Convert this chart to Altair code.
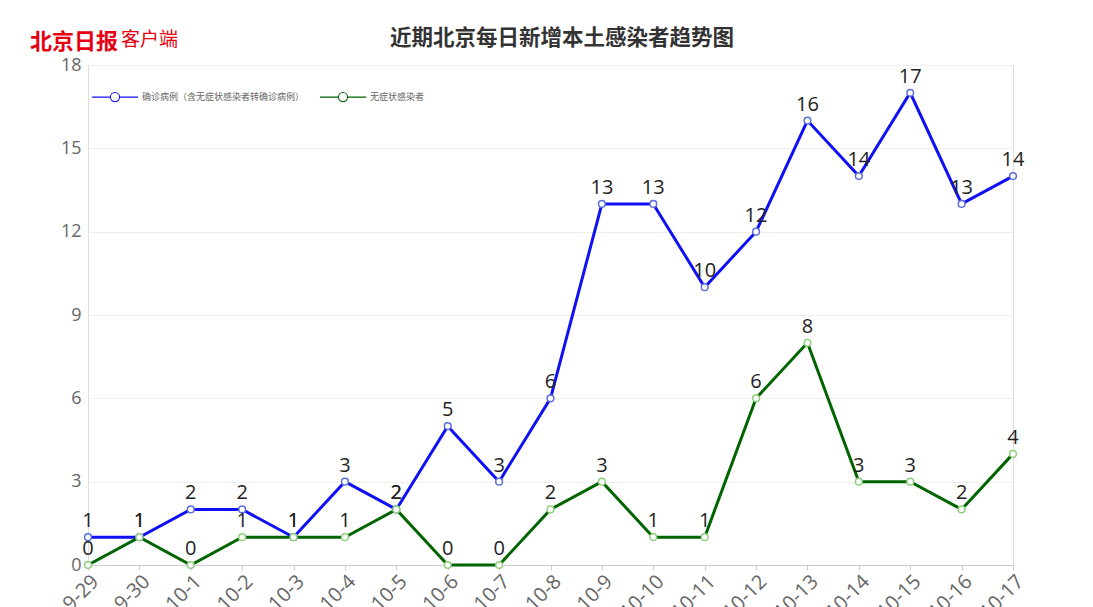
import altair as alt
import pandas as pd

dates = ["9-29", "9-30", "10-1", "10-2", "10-3", "10-4", "10-5", "10-6", "10-7", "10-8",
         "10-9", "10-10", "10-11", "10-12", "10-13", "10-14", "10-15", "10-16", "10-17"]
confirmed = [1, 1, 2, 2, 1, 3, 2, 5, 3, 6, 13, 13, 10, 12, 16, 14, 17, 13, 14]
asymptomatic = [0, 1, 0, 1, 1, 1, 2, 0, 0, 2, 3, 1, 1, 6, 8, 3, 3, 2, 4]

s1 = "确诊病例（含无症状感染者转确诊病例）"
s2 = "无症状感染者"
series = [s1, s2]
line_colors = ["#1010f5", "#006400"]
marker_colors = ["#5b6fd8", "#8fcf7f"]

rows = []
for d, a, b in zip(dates, confirmed, asymptomatic):
    rows.append({"date": d, "series": s1, "value": a})
    rows.append({"date": d, "series": s2, "value": b})
df = pd.DataFrame(rows)

x = alt.X("date:N", sort=dates, title=None,
          scale=alt.Scale(type="point", padding=0),
          axis=alt.Axis(labelAngle=315, labelFontSize=20, labelColor="#666666",
                        labelFont="Open Sans", domainColor="#cccccc", tickColor="#cccccc",
                        tickSize=5, labelPadding=1, grid=False))
y = alt.Y("value:Q", title=None,
          scale=alt.Scale(domain=[0, 18], nice=False),
          axis=alt.Axis(values=[0, 3, 6, 9, 12, 15, 18], labelFontSize=18, labelColor="#666666",
                        labelFont="Open Sans", domain=False, ticks=False, labelPadding=7,
                        gridColor="#eeeeee"))

legend_path = ("M-1,0L-0.2,0M0.2,0L1,0M-0.2,0A0.2,0.2,0,1,1,0.2,0"
               "A0.2,0.2,0,1,1,-0.2,0Z")

base = alt.Chart(df)

lines = base.mark_line(strokeWidth=3).encode(
    x=x, y=y,
    color=alt.Color("series:N", sort=series,
                    scale=alt.Scale(domain=series, range=line_colors),
                    legend=alt.Legend(title=None, orient="none", legendX=3, legendY=8,
                                      direction="horizontal", symbolType=legend_path,
                                      symbolSize=2116, symbolStrokeWidth=1.1,
                                      symbolFillColor="white", labelFontSize=9,
                                      labelColor="#666666", labelFont="Noto Sans CJK SC",
                                      labelLimit=1000, columnPadding=12, labelOffset=3)),
)

points = base.mark_point(filled=True, fill="white", size=45, strokeWidth=1.5, opacity=1).encode(
    x=x, y=y,
    stroke=alt.Stroke("series:N", scale=alt.Scale(domain=series, range=marker_colors), legend=None),
)

labels = base.mark_text(dy=-16, fontSize=20, font="Open Sans", color="#222222").encode(
    x=x, y=y, text="value:Q",
)

logo_df = pd.DataFrame({"t": ["北京日报"], "u": ["客户端"], "title": ["近期北京每日新增本土感染者趋势图"]})
logo1 = alt.Chart(logo_df).mark_text(
    fontSize=22, font="Noto Sans CJK SC", fontWeight="bold",
    color="#e60012", align="left", baseline="alphabetic"
).encode(x=alt.value(-58), y=alt.value(-16), text="t:N")
logo2 = alt.Chart(logo_df).mark_text(
    fontSize=19, font="Noto Sans CJK SC", color="#e60012", align="left",
    baseline="alphabetic"
).encode(x=alt.value(33), y=alt.value(-19), text="u:N")
title = alt.Chart(logo_df).mark_text(
    fontSize=21.5, font="Noto Sans CJK SC", fontWeight="bold", color="#333333",
    align="center", baseline="alphabetic"
).encode(x=alt.value(474), y=alt.value(-20), text="title:N")

chart = alt.layer(lines, points, labels, logo1, logo2, title).properties(
    width=925, height=500,
    autosize=alt.AutoSizeParams(type="none"),
    padding={"left": 88, "top": 65, "right": 80, "bottom": 42},
).configure_view(stroke=None).configure(background="white")

chart.save("out.html", embed_options={"renderer": "svg", "actions": False})
